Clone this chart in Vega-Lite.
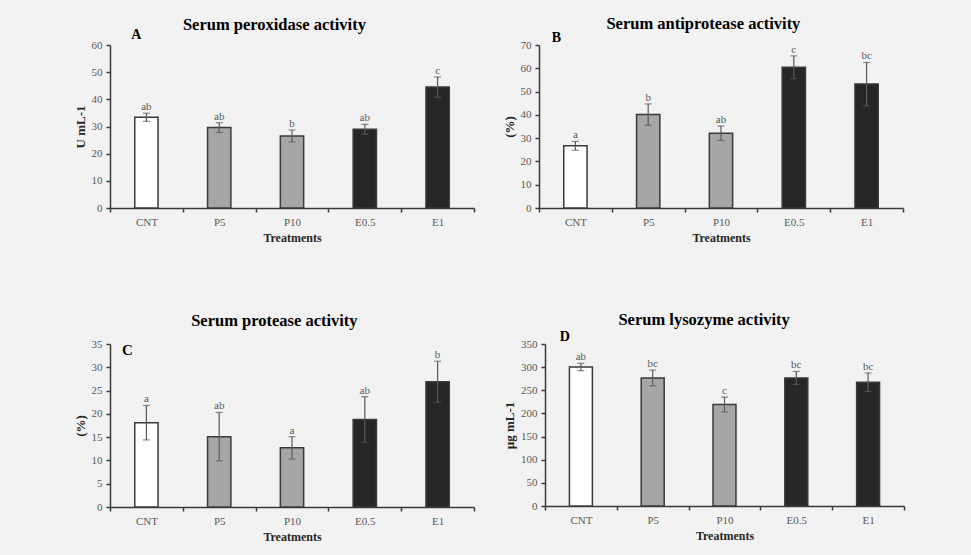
{
  "$schema": "https://vega.github.io/schema/vega-lite/v6.json",
  "padding": {"left": 74, "top": 16, "right": 69, "bottom": 13},
  "spacing": 69,
  "datasets": {
    "peroxidase": [
      {"treatment": "CNT", "mean": 33.4, "err": 1.5, "letter": "ab"},
      {"treatment": "P5", "mean": 29.6, "err": 1.8, "letter": "ab"},
      {"treatment": "P10", "mean": 26.5, "err": 2.2, "letter": "b"},
      {"treatment": "E0.5", "mean": 29.0, "err": 1.8, "letter": "ab"},
      {"treatment": "E1", "mean": 44.5, "err": 3.7, "letter": "c"}
    ],
    "antiprotease": [
      {"treatment": "CNT", "mean": 26.7, "err": 1.9, "letter": "a"},
      {"treatment": "P5", "mean": 40.1, "err": 4.6, "letter": "b"},
      {"treatment": "P10", "mean": 32.1, "err": 3.1, "letter": "ab"},
      {"treatment": "E0.5", "mean": 60.4, "err": 4.9, "letter": "c"},
      {"treatment": "E1", "mean": 53.2, "err": 9.3, "letter": "bc"}
    ],
    "protease": [
      {"treatment": "CNT", "mean": 18.1, "err": 3.7, "letter": "a"},
      {"treatment": "P5", "mean": 15.1, "err": 5.2, "letter": "ab"},
      {"treatment": "P10", "mean": 12.7, "err": 2.4, "letter": "a"},
      {"treatment": "E0.5", "mean": 18.8, "err": 4.9, "letter": "ab"},
      {"treatment": "E1", "mean": 26.9, "err": 4.4, "letter": "b"}
    ],
    "lysozyme": [
      {"treatment": "CNT", "mean": 300.4, "err": 8, "letter": "ab"},
      {"treatment": "P5", "mean": 276.7, "err": 17, "letter": "bc"},
      {"treatment": "P10", "mean": 219.2, "err": 16, "letter": "c"},
      {"treatment": "E0.5", "mean": 276.7, "err": 14, "letter": "bc"},
      {"treatment": "E1", "mean": 267.4, "err": 20, "letter": "bc"}
    ]
  },
  "vconcat": [
    {
      "spacing": 28,
      "hconcat": [
        {
          "width": 364, "height": 163,
          "data": {"name": "peroxidase"},
          "title": {"text": "Serum peroxidase activity", "offset": -5},
          "encoding": {
            "x": {"field": "treatment", "type": "nominal", "sort": ["CNT", "P5", "P10", "E0.5", "E1"], "scale": {"paddingInner": 0, "paddingOuter": 0}, "axis": {"title": "Treatments"}},
            "y": {"field": "mean", "type": "quantitative", "scale": {"domain": [0, 60], "nice": false}, "axis": {"title": "U mL-1", "values": [0, 10, 20, 30, 40, 50, 60]}}
          },
          "layer": [
            {"mark": {"type": "bar", "width": {"band": 0.32}, "stroke": "#3a3a3a", "strokeWidth": 1.5},
             "encoding": {"color": {"field": "treatment", "type": "nominal", "scale": {"domain": ["CNT", "P5", "P10", "E0.5", "E1"], "range": ["#ffffff", "#a6a6a6", "#a6a6a6", "#262626", "#262626"]}, "legend": null}}},
            {"mark": {"type": "errorbar", "color": "#5a5a5a", "thickness": 1.2, "ticks": {"size": 7, "thickness": 1.2}},
             "encoding": {"yError": {"field": "err"}}},
            {"transform": [{"calculate": "datum.mean + datum.err", "as": "hi"}],
             "mark": {"type": "text", "baseline": "alphabetic", "dy": -3, "fontSize": 11, "color": "#595959"},
             "encoding": {"y": {"field": "hi", "type": "quantitative"}, "text": {"field": "letter"}}},
            {"transform": [{"filter": "datum.treatment == 'CNT'"}],
             "mark": {"type": "text", "fontSize": 14, "fontWeight": "bold", "color": "#000000", "baseline": "alphabetic", "dx": -10},
             "encoding": {"y": {"datum": 62.2}, "text": {"value": "A"}}}
          ]
        },
        {
          "width": 364, "height": 163,
          "data": {"name": "antiprotease"},
          "title": {"text": "Serum antiprotease activity", "offset": -2},
          "encoding": {
            "x": {"field": "treatment", "type": "nominal", "sort": ["CNT", "P5", "P10", "E0.5", "E1"], "scale": {"paddingInner": 0, "paddingOuter": 0}, "axis": {"title": "Treatments"}},
            "y": {"field": "mean", "type": "quantitative", "scale": {"domain": [0, 70], "nice": false}, "axis": {"title": "(%)", "values": [0, 10, 20, 30, 40, 50, 60, 70]}}
          },
          "layer": [
            {"mark": {"type": "bar", "width": {"band": 0.32}, "stroke": "#3a3a3a", "strokeWidth": 1.5},
             "encoding": {"color": {"field": "treatment", "type": "nominal", "scale": {"domain": ["CNT", "P5", "P10", "E0.5", "E1"], "range": ["#ffffff", "#a6a6a6", "#a6a6a6", "#262626", "#262626"]}, "legend": null}}},
            {"mark": {"type": "errorbar", "color": "#5a5a5a", "thickness": 1.2, "ticks": {"size": 7, "thickness": 1.2}},
             "encoding": {"yError": {"field": "err"}}},
            {"transform": [{"calculate": "datum.mean + datum.err", "as": "hi"}],
             "mark": {"type": "text", "baseline": "alphabetic", "dy": -3, "fontSize": 11, "color": "#595959"},
             "encoding": {"y": {"field": "hi", "type": "quantitative"}, "text": {"field": "letter"}}},
            {"transform": [{"filter": "datum.treatment == 'CNT'"}],
             "mark": {"type": "text", "fontSize": 14, "fontWeight": "bold", "color": "#000000", "baseline": "alphabetic", "dx": -19},
             "encoding": {"y": {"datum": 71.4}, "text": {"value": "B"}}}
          ]
        }
      ]
    },
    {
      "spacing": 28,
      "hconcat": [
        {
          "width": 364, "height": 163,
          "data": {"name": "protease"},
          "title": {"text": "Serum protease activity", "offset": 9},
          "encoding": {
            "x": {"field": "treatment", "type": "nominal", "sort": ["CNT", "P5", "P10", "E0.5", "E1"], "scale": {"paddingInner": 0, "paddingOuter": 0}, "axis": {"title": "Treatments"}},
            "y": {"field": "mean", "type": "quantitative", "scale": {"domain": [0, 35], "nice": false}, "axis": {"title": "(%)", "values": [0, 5, 10, 15, 20, 25, 30, 35]}}
          },
          "layer": [
            {"mark": {"type": "bar", "width": {"band": 0.32}, "stroke": "#3a3a3a", "strokeWidth": 1.5},
             "encoding": {"color": {"field": "treatment", "type": "nominal", "scale": {"domain": ["CNT", "P5", "P10", "E0.5", "E1"], "range": ["#ffffff", "#a6a6a6", "#a6a6a6", "#262626", "#262626"]}, "legend": null}}},
            {"mark": {"type": "errorbar", "color": "#5a5a5a", "thickness": 1.2, "ticks": {"size": 7, "thickness": 1.2}},
             "encoding": {"yError": {"field": "err"}}},
            {"transform": [{"calculate": "datum.mean + datum.err", "as": "hi"}],
             "mark": {"type": "text", "baseline": "alphabetic", "dy": -3, "fontSize": 11, "color": "#595959"},
             "encoding": {"y": {"field": "hi", "type": "quantitative"}, "text": {"field": "letter"}}},
            {"transform": [{"filter": "datum.treatment == 'CNT'"}],
             "mark": {"type": "text", "fontSize": 15, "fontWeight": "bold", "color": "#000000", "baseline": "alphabetic", "dx": -19},
             "encoding": {"y": {"datum": 32.6}, "text": {"value": "C"}}}
          ]
        },
        {
          "width": 359, "height": 162,
          "data": {"name": "lysozyme"},
          "title": {"text": "Serum lysozyme activity", "offset": 1},
          "encoding": {
            "x": {"field": "treatment", "type": "nominal", "sort": ["CNT", "P5", "P10", "E0.5", "E1"], "scale": {"paddingInner": 0, "paddingOuter": 0}, "axis": {"title": "Treatments"}},
            "y": {"field": "mean", "type": "quantitative", "scale": {"domain": [0, 350], "nice": false}, "axis": {"title": "µg mL-1", "values": [0, 50, 100, 150, 200, 250, 300, 350]}}
          },
          "layer": [
            {"mark": {"type": "bar", "width": {"band": 0.32}, "stroke": "#3a3a3a", "strokeWidth": 1.5},
             "encoding": {"color": {"field": "treatment", "type": "nominal", "scale": {"domain": ["CNT", "P5", "P10", "E0.5", "E1"], "range": ["#ffffff", "#a6a6a6", "#a6a6a6", "#262626", "#262626"]}, "legend": null}}},
            {"mark": {"type": "errorbar", "color": "#5a5a5a", "thickness": 1.2, "ticks": {"size": 7, "thickness": 1.2}},
             "encoding": {"yError": {"field": "err"}}},
            {"transform": [{"calculate": "datum.mean + datum.err", "as": "hi"}],
             "mark": {"type": "text", "baseline": "alphabetic", "dy": -3, "fontSize": 11, "color": "#595959"},
             "encoding": {"y": {"field": "hi", "type": "quantitative"}, "text": {"field": "letter"}}},
            {"transform": [{"filter": "datum.treatment == 'CNT'"}],
             "mark": {"type": "text", "fontSize": 14, "fontWeight": "bold", "color": "#000000", "baseline": "alphabetic", "dx": -16},
             "encoding": {"y": {"datum": 356.5}, "text": {"value": "D"}}}
          ]
        }
      ]
    }
  ],
  "config": {
    "background": "#f2f2f2",
    "view": {"stroke": null},
    "font": "Liberation Serif",
    "text": {"font": "Liberation Serif"},
    "title": {"font": "Liberation Serif", "fontSize": 16.5, "fontWeight": "bold", "color": "#000000", "anchor": "middle", "frame": "bounds"},
    "axis": {
      "grid": false,
      "domainColor": "#3a3a3a", "domainWidth": 1.5,
      "tickColor": "#3a3a3a", "tickWidth": 1.5, "tickSize": 4,
      "labelFont": "Liberation Serif", "labelFontSize": 11, "labelColor": "#595959",
      "titleFont": "Liberation Serif", "titleFontSize": 12, "titleFontWeight": "bold", "titleColor": "#262626"
    },
    "axisX": {"labelAngle": 0, "tickBand": "extent", "labelPadding": 4, "titlePadding": 5},
    "axisY": {"labelPadding": 4, "titlePadding": 4, "titleFontSize": 13}
  }
}
